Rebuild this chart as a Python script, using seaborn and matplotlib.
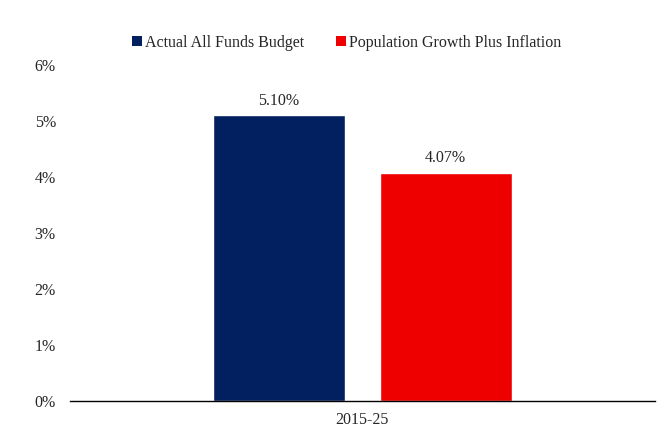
import pandas as pd
import seaborn as sns
import matplotlib.pyplot as plt
from matplotlib.patches import Patch

# Data
periods = ["2015-25", "2015-25"]
series = ["Actual All Funds Budget", "Population Growth Plus Inflation"]
growth = [5.10, 4.07]
colors = ["#02205F", "#EE0000"]

df = pd.DataFrame({"Period": periods, "Series": series, "Growth": growth})

sns.set_style("white")
plt.rcParams['font.family'] = ['Liberation Serif', 'DejaVu Serif']

fig = plt.figure(figsize=(6.64, 4.28), dpi=100)
ax = fig.add_axes([0.105, 0.063, 0.881, 0.785])

sns.barplot(data=df, x="Period", y="Growth", hue="Series", palette=colors,
            width=0.571, gap=0.21, saturation=1, legend=False, ax=ax)

for cont in ax.containers:
    ax.bar_label(cont, labels=[f"{v:.2f}%" for v in cont.datavalues],
                 padding=5, fontsize=11.5)

ax.set_ylim(0, 6)
ax.set_xlim(-0.5, 0.5)
ax.set_yticks(range(0, 7))
ax.set_yticklabels([f"{i}%" for i in range(0, 7)], fontsize=11.5)
ax.tick_params(axis="x", labelsize=11.5, length=0, pad=8)
ax.tick_params(axis="y", length=0, pad=10)
ax.set_xlabel("")
ax.set_ylabel("")

for s in ["top", "right", "left"]:
    ax.spines[s].set_visible(False)
ax.spines["bottom"].set_color("black")
ax.spines["bottom"].set_linewidth(1)

handles = [Patch(facecolor=c, edgecolor="none") for c in colors]
fig.legend(handles, series, loc="center", bbox_to_anchor=(0.522, 0.9),
           ncol=2, frameon=False, fontsize=11.5, handlelength=0.6,
           handleheight=0.6, handletextpad=0.2, columnspacing=2.0)

fig.savefig("out.png", dpi=100)
